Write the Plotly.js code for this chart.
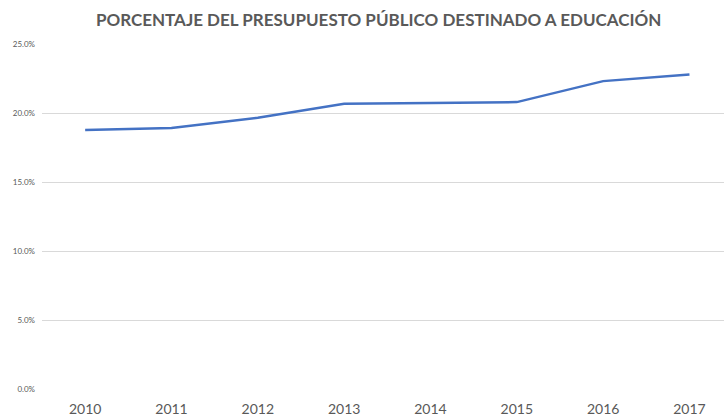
<!DOCTYPE html>
<html>
<head>
<meta charset="utf-8">
<script src="https://cdn.plot.ly/plotly-3.0.1.min.js"></script>
<style>html,body{margin:0;padding:0;background:#fff;}#chart{width:724px;height:416px;}</style>
</head>
<body>
<div id="chart"></div>
<script>
const years = ['2010','2011','2012','2013','2014','2015','2016','2017'];
const porcentaje = [18.76, 18.91, 19.66, 20.67, 20.73, 20.79, 22.31, 22.79];
const yTicks = [0, 5, 10, 15, 20, 25];
const yTickText = yTicks.map(v => v.toFixed(1) + '%');

Plotly.newPlot('chart', [{
  x: years,
  y: porcentaje,
  type: 'scatter',
  mode: 'lines',
  line: {color: '#4472C4', width: 2.5},
  hoverinfo: 'skip'
}], {
  width: 724, height: 416,
  margin: {l: 42, r: 0, t: 44, b: 27},
  paper_bgcolor: '#fff', plot_bgcolor: '#fff',
  showlegend: false,
  title: {
    text: '<b>PORCENTAJE DEL PRESUPUESTO PÚBLICO DESTINADO A EDUCACIÓN</b>',
    font: {family: 'Lato, sans-serif', size: 17, color: '#595959'},
    x: 0.523, xanchor: 'center', y: 0.952, yanchor: 'middle'
  },
  xaxis: {
    type: 'category',
    range: [-0.5, 7.4],
    showgrid: false, zeroline: false, showline: false,
    ticks: '',
    tickfont: {family: 'Lato, sans-serif', size: 14, color: '#595959'},
    ticklabelstandoff: 10
  },
  yaxis: {
    range: [0, 25],
    tickmode: 'array',
    tickvals: yTicks,
    ticktext: yTickText,
    showgrid: true, gridcolor: '#d9d9d9', gridwidth: 1,
    zeroline: false, showline: false, ticks: '',
    tickfont: {family: 'Lato, sans-serif', size: 8, color: '#595959'},
    ticklabelstandoff: 6
  }
}, {displayModeBar: false, staticPlot: true});
</script>
</body>
</html>
